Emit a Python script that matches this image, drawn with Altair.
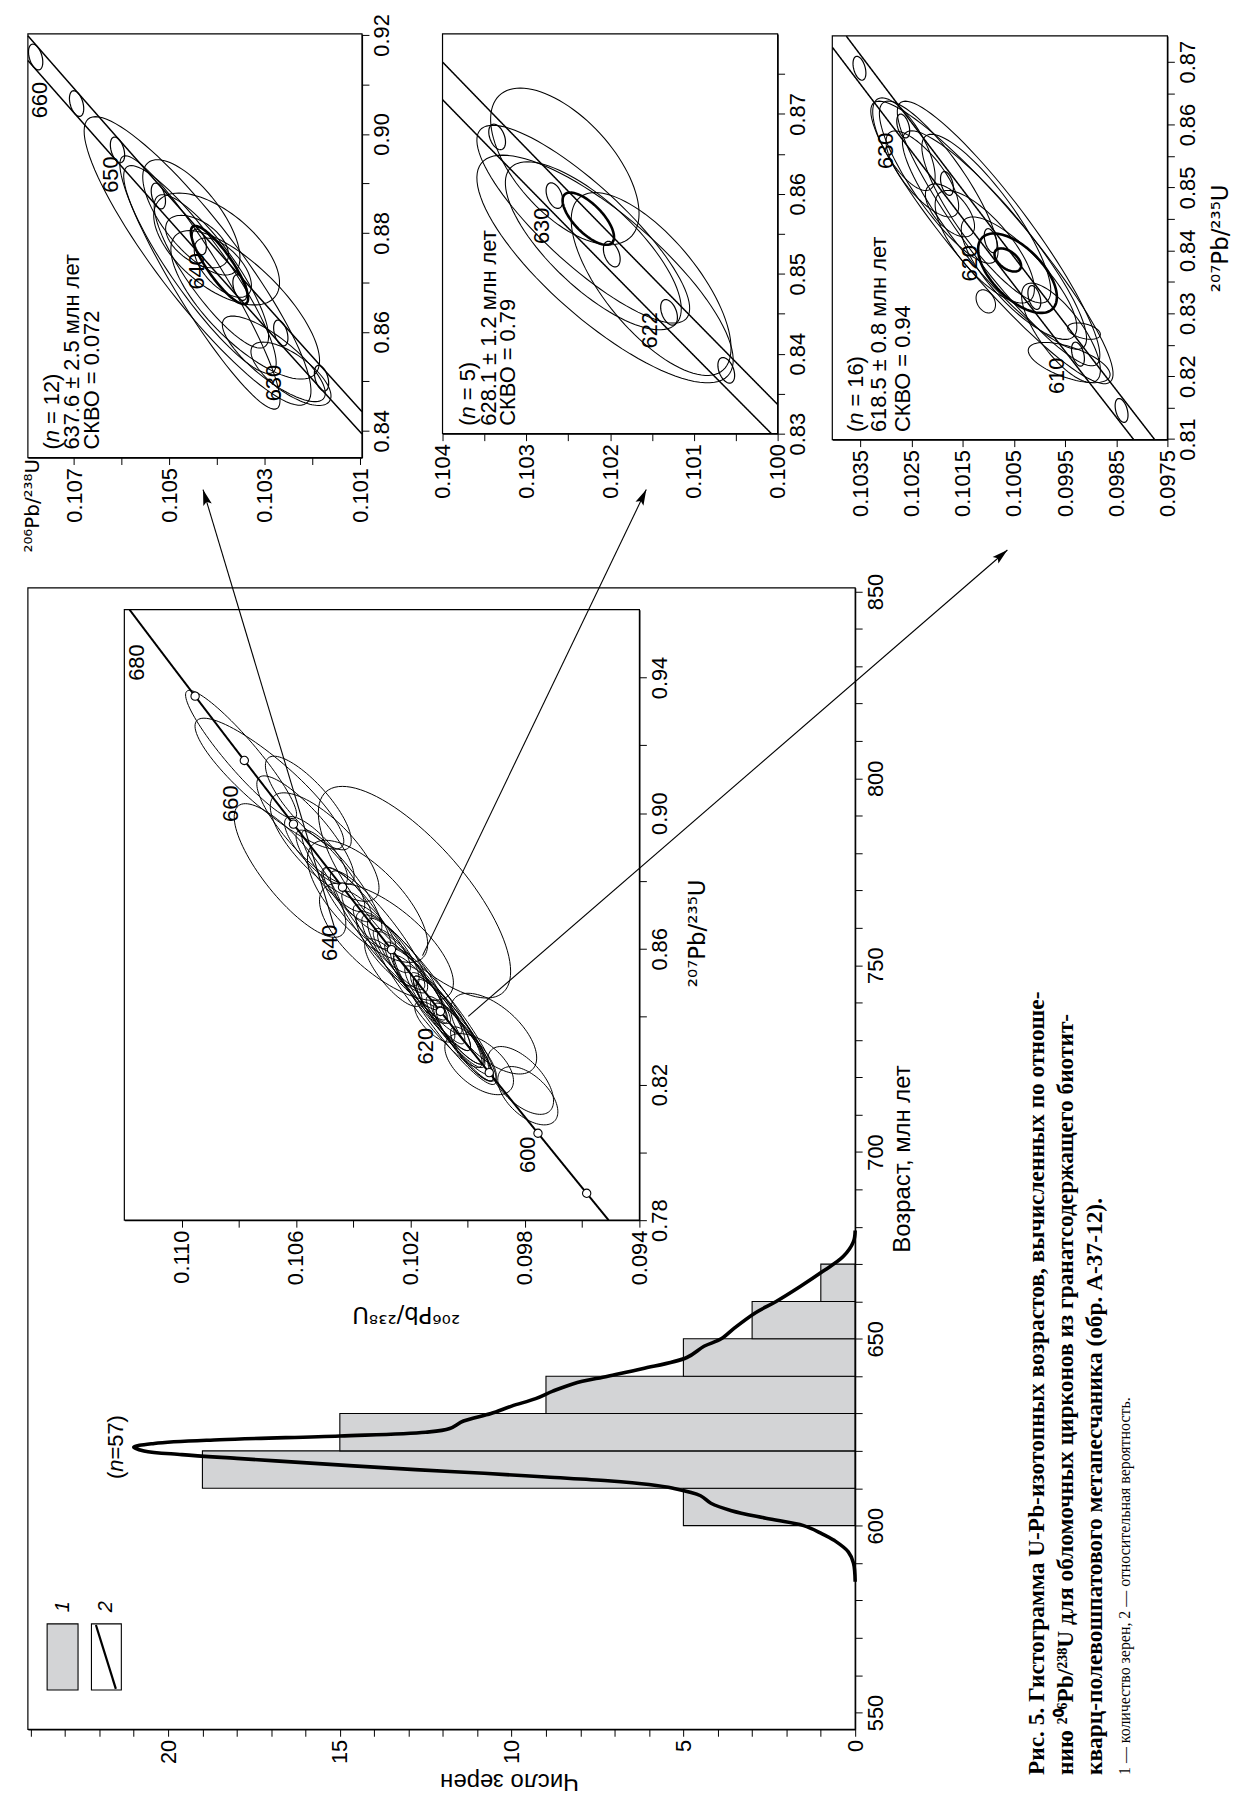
import math
import numpy as np
import pandas as pd
import altair as alt

INK = "#000000"
BAR = "#d3d4d6"
SANS = "Liberation Sans"
ISO = "DejaVu Sans"
SERIF = "Liberation Serif"
W, H = 1236, 1788
FS = 22

# ---------------- histogram data ----------------
age_bin_start = [600, 610, 620, 630, 640, 650, 660]
age_bin_end = [610, 620, 630, 640, 650, 660, 670]
grain_count = [5, 19, 15, 9, 5, 3, 1]
curve_age = [585, 590, 593, 596, 598, 600, 602, 604, 606, 608, 610, 611, 612, 613, 614, 615,
             616, 617, 618, 619, 620, 621, 622, 623, 624, 625, 626, 628, 630, 632, 634, 636,
             638, 640, 642, 645, 648, 650, 653, 657, 660, 664, 668, 672, 676, 679]
curve_prob = [0, 0.05, 0.2, 0.6, 1.0, 1.5, 2.6, 3.6, 4.2, 4.5, 5.3, 6.0, 7.2, 9.0, 10.8, 12.8,
              14.6, 16.3, 18.0, 19.6, 20.7, 21.0, 20.4, 18.5, 15.0, 12.5, 11.8, 11.4, 10.6, 10.0,
              9.3, 8.8, 8.2, 7.2, 6.2, 4.9, 4.4, 3.9, 3.5, 2.9, 2.3, 1.6, 0.95, 0.35, 0.05, 0]
count_ticks = list(range(0, 25))
age_ticks = list(range(550, 851, 10))

# ---------------- inset (all grains) ----------------
inset_cx = [0.9173, 0.9087, 0.8831, 0.8950, 0.9030, 0.8767, 0.8621, 0.8350, 0.8212, 0.8167,
            0.8800, 0.8720, 0.8650, 0.8560, 0.8500, 0.8450, 0.8420, 0.8380, 0.8350, 0.8320,
            0.8290, 0.8400, 0.8470, 0.8600, 0.8890, 0.8900, 0.8260, 0.8530, 0.8740, 0.8385,
            0.8330, 0.8360, 0.8410, 0.8440, 0.8480, 0.8520, 0.8570, 0.8630, 0.8680, 0.8760,
            0.8830, 0.8390]
inset_cy = [0.10792, 0.10693, 0.10621, 0.10567, 0.10557, 0.10186, 0.10284, 0.09909, 0.09815, 0.09790,
            0.10440, 0.10390, 0.10310, 0.10230, 0.10180, 0.10130, 0.10100, 0.10060, 0.10030, 0.10010,
            0.09980, 0.10080, 0.10150, 0.10280, 0.10530, 0.10500, 0.09960, 0.10260, 0.10350, 0.10115,
            0.10020, 0.10045, 0.10090, 0.10110, 0.10160, 0.10195, 0.10240, 0.10300, 0.10345, 0.10420,
            0.10480, 0.10070]
inset_sx = [0.0189, 0.0193, 0.0197, 0.0160, 0.0138, 0.0312, 0.0173, 0.0119, 0.0100, 0.0086,
            0.0150, 0.0120, 0.0180, 0.0140, 0.0120, 0.0150, 0.0100, 0.0130, 0.0090, 0.0110,
            0.0080, 0.0200, 0.0220, 0.0110, 0.0100, 0.0160, 0.0090, 0.0100, 0.0180, 0.0060,
            0.0120, 0.0100, 0.0110, 0.0090, 0.0100, 0.0130, 0.0090, 0.0100, 0.0090, 0.0080,
            0.0120, 0.0160]
inset_sy = [0.00194, 0.00260, 0.00195, 0.00170, 0.00150, 0.00336, 0.00234, 0.00150, 0.00115, 0.00105,
            0.00140, 0.00120, 0.00170, 0.00140, 0.00110, 0.00140, 0.00090, 0.00120, 0.00090, 0.00100,
            0.00080, 0.00180, 0.00200, 0.00110, 0.00110, 0.00190, 0.00120, 0.00100, 0.00210, 0.00070,
            0.00110, 0.00100, 0.00100, 0.00090, 0.00100, 0.00120, 0.00090, 0.00100, 0.00095, 0.00085,
            0.00120, 0.00150]
inset_rho = [0.93, 0.88, 0.80, 0.85, 0.80, 0.75, 0.70, 0.60, 0.60, 0.55,
             0.90, 0.85, 0.90, 0.88, 0.90, 0.92, 0.88, 0.90, 0.85, 0.88,
             0.80, 0.93, 0.93, 0.80, 0.80, 0.75, 0.55, 0.80, 0.70, 0.70,
             0.92, 0.90, 0.90, 0.88, 0.90, 0.92, 0.85, 0.85, 0.85, 0.80,
             0.85, 0.93]
inset_marker_age = [590, 600, 610, 620, 630, 640, 650, 660, 670]
inset_label = ["600", "620", "640", "660", "680"]
inset_label_xo = [0.7993, 0.8313, 0.8618, 0.9028, 0.9444]
inset_label_yo = [0.09789, 0.10147, 0.10481, 0.10828, 0.11155]

# arrows from the inset to the three enlarged diagrams (inset coordinates)
arrow_from_xo = [0.8656, 0.8580, 0.8401]
arrow_from_yo = [0.10463, 0.10158, 0.09998]
arrow_to_xo = [0.9954, 0.9954, 0.9776]
arrow_to_yo = [0.10925, 0.09376, 0.08114]

# ---------------- panel A (n = 12) ----------------
a_cx = [0.87433, 0.86997, 0.88313, 0.87674, 0.86545, 0.85454, 0.85153, 0.87298, 0.87824, 0.87222, 0.87260]
a_cy = [0.10441, 0.10436, 0.10454, 0.10401, 0.10341, 0.10281, 0.10245, 0.10388, 0.10442, 0.10412, 0.10436]
a_sx = [0.02916, 0.02560, 0.01166, 0.01130, 0.01500, 0.00865, 0.00640, 0.00600, 0.00530, 0.01550, 0.02100]
a_sy = [0.00238, 0.00168, 0.00102, 0.00132, 0.00156, 0.00108, 0.00084, 0.00060, 0.00066, 0.00120, 0.00160]
a_rho = [0.90, 0.93, 0.70, 0.60, 0.75, 0.80, 0.70, 0.60, 0.50, 0.85, 0.90]
a_mean = [0.8735, 0.10395, 0.0079, 0.0006, 0.85]
a_marker_age = [625, 630, 635, 640, 645, 650, 655, 660]
a_label = ["630", "640", "650", "660"]
a_label_xo = [0.84965, 0.87222, 0.89178, 0.90683]
a_label_yo = [0.10281, 0.10442, 0.10622, 0.10772]
a_stats = ["637.6 ± 2.5 млн лет", "СКВО = 0.072"]
a_n = "12"

# ---------------- panel B (n = 5) ----------------
b_cx = [0.85060, 0.86343, 0.85620, 0.84872, 0.85350]
b_cy = [0.10206, 0.10254, 0.10232, 0.10151, 0.10220]
b_sx = [0.01424, 0.00980, 0.01237, 0.01144, 0.01050]
b_sy = [0.00153, 0.000886, 0.00127, 0.000954, 0.00105]
b_rho = [0.80, 0.60, 0.85, 0.70, 0.75]
b_mean = [0.85689, 0.10226, 0.00327, 0.000307, 0.70]
b_marker_age = [618, 622, 626, 630, 634]
b_label = ["630", "622"]
b_label_xo = [0.8560, 0.84294]
b_label_yo = [0.10281, 0.10152]
b_stats = ["628.1 ± 1.2 млн лет", "СКВО = 0.79"]
b_n = "5"

# ---------------- panel C (n = 16) ----------------
c_cx = [0.84126, 0.84268, 0.84163, 0.84505, 0.84058, 0.83558, 0.82716, 0.82689, 0.82216,
        0.85689, 0.85215, 0.85084, 0.84636, 0.83189]
c_cy = [0.10093, 0.10080, 0.10088, 0.10104, 0.10107, 0.10040, 0.09913, 0.09958, 0.09942,
        0.10265, 0.10229, 0.10197, 0.10175, 0.10105]
c_sx = [0.02247, 0.02105, 0.01737, 0.01342, 0.00895, 0.00974, 0.00130, 0.00790, 0.00320,
        0.00737, 0.00684, 0.01289, 0.00421, 0.00184]
c_sy = [0.002368, 0.00198, 0.00180, 0.00126, 0.00097, 0.00113, 0.00032, 0.00077, 0.00080,
        0.00061, 0.00071, 0.00116, 0.00048, 0.00019]
c_rho = [0.93, 0.92, 0.90, 0.85, 0.75, 0.80, 0.40, 0.75, 0.60, 0.70, 0.75, 0.85, 0.60, 0.30]
c_bold_cx = [0.83847, 0.83637]
c_bold_cy = [0.10062, 0.10043]
c_bold_sx = [0.00184, 0.00632]
c_bold_sy = [0.00026, 0.00077]
c_bold_rho = [0.50, 0.60]
c_marker_age = [605, 610, 615, 620, 625, 630, 635]
c_label = ["630", "620", "610"]
c_label_xo = [0.85584, 0.83794, 0.82005]
c_label_yo = [0.10300, 0.10136, 0.09965]
c_stats = ["618.5 ± 0.8 млн лет", "СКВО = 0.94"]
c_n = "16"

caption_bold = [
    "Рис. 5. Гистограмма U-Pb-изотопных возрастов, вычисленных по отноше-",
    "нию ²⁰⁶Pb/²³⁸U для обломочных цирконов из гранатсодержащего биотит-",
    "кварц-полевошпатового метапесчаника (обр. А-37-12).",
]
caption_note = "1 — количество зерен, 2 — относительная вероятность."

# ---------------- layout (chart pixels) ----------------
P_HIST = dict(xd=[0, 24.08], xr=[852, 20], yd=[545.5, 851], yr=[1726, 578])
P_INS = dict(xd=[0.094, 0.112], xr=[635, 117], yd=[0.78, 0.96], yr=[1214, 600])
P_A = dict(xd=[0.10096, 0.10797], xr=[356, 20], yd=[0.8346, 0.9202], yr=[447, 21])
P_B = dict(xd=[0.100, 0.104], xr=[774, 437], yd=[0.83, 0.88], yr=[423, 21])
P_C = dict(xd=[0.0975, 0.10405], xr=[1166, 829], yd=[0.8099, 0.8741], yr=[429, 23])

L238, L235 = 1.55125e-4, 9.8485e-4  # decay constants, 1/Ma


def concordia(age, eps=0.0):
    age = np.asarray(age, dtype=float)
    return np.exp(L235 * (1 + eps) * age) - 1, np.exp(L238 * age) - 1


def scales(p):
    return (alt.Scale(domain=p["xd"], range=p["xr"], nice=False, zero=False),
            alt.Scale(domain=p["yd"], range=p["yr"], nice=False, zero=False))


def enc(p, xf="yo", yf="xo"):
    sx, sy = scales(p)
    return dict(x=alt.X(f"{xf}:Q", scale=sx, axis=None), y=alt.Y(f"{yf}:Q", scale=sy, axis=None))


def axis_bottom(p, values, expr, **kw):
    return alt.Axis(orient="bottom", offset=p["yr"][0] - H, values=values, labelExpr=expr,
                    labelAngle=270, labelAlign="right", labelBaseline="middle",
                    labelFlush=False, labelOverlap=False, grid=False, **kw)


def axis_right(p, values, expr, **kw):
    return alt.Axis(orient="right", offset=p["xr"][0] - W, values=values, labelExpr=expr,
                    labelAngle=270, labelAlign="center", labelBaseline="top",
                    labelFlush=False, labelOverlap=False, grid=False, **kw)


def iso_title(text, angle, x, y, size):
    return dict(title=text, titleAngle=angle, titleAlign="center", titleBaseline="middle",
                titleX=x, titleY=y, titleFont=ISO, titleFontSize=size)


def axis_layers(p, xax, yax):
    """Two invisible helper layers carrying the panel's axes (one per axis)."""
    sx, sy = scales(p)
    df = pd.DataFrame({"a": [p["xd"][0]], "b": [p["yd"][0]]})
    lx = alt.Chart(df).mark_point(opacity=0, size=1).encode(
        x=alt.X("a:Q", scale=sx, axis=xax), y=alt.Y("b:Q", scale=sy, axis=None))
    ly = alt.Chart(df).mark_point(opacity=0, size=1).encode(
        x=alt.X("a:Q", scale=sx, axis=None), y=alt.Y("b:Q", scale=sy, axis=yax))
    return [lx, ly]


def frame(p):
    sx, sy = scales(p)
    df = pd.DataFrame({"a0": [p["xd"][0]], "a1": [p["xd"][1]], "b0": [p["yd"][0]], "b1": [p["yd"][1]]})
    return alt.Chart(df).mark_rect(fill="transparent", stroke=INK, strokeWidth=1.2).encode(
        x=alt.X("a0:Q", scale=sx, axis=None), x2="a1:Q",
        y=alt.Y("b0:Q", scale=sy, axis=None), y2="b1:Q")


def ellipses(cx, cy, sx, sy, rho, tag, n=100):
    t = np.linspace(0, 2 * np.pi, n)
    parts = []
    for i in range(len(cx)):
        r = rho[i]
        xo = cx[i] + sx[i] * np.cos(t)
        yo = cy[i] + sy[i] * (r * np.cos(t) + math.sqrt(1 - r * r) * np.sin(t))
        parts.append(pd.DataFrame({"id": f"{tag}{i}", "k": np.arange(n), "xo": xo, "yo": yo}))
    return pd.concat(parts, ignore_index=True)


def ell_layer(p, df, width):
    return alt.Chart(df).mark_line(color=INK, strokeWidth=width).encode(
        detail="id:N", order="k:Q", **enc(p))


def conc_lines(p, eps_list):
    ages = np.arange(560, 720, 0.02)
    parts = []
    for j, e in enumerate(eps_list):
        r75, r68 = concordia(ages, e)
        m = (r68 >= p["xd"][0]) & (r68 <= p["xd"][1]) & (r75 >= p["yd"][0]) & (r75 <= p["yd"][1])
        parts.append(pd.DataFrame({"id": j, "age": ages[m], "xo": r75[m], "yo": r68[m]}))
    return pd.concat(parts, ignore_index=True)


def text_layer(p, texts, xo, yo, **mk):
    df = pd.DataFrame({"t": texts, "xo": xo, "yo": yo})
    base = dict(font=SANS, fontSize=FS, color=INK, angle=270, baseline="middle")
    base.update(mk)
    return alt.Chart(df).mark_text(**base).encode(text="t:N", **enc(p))


def n_line(p, xo, yo, rest, fs=FS):
    w_par = 0.333 * fs
    w_n = 0.556 * fs
    w_sp = 0.278 * fs
    return [
        text_layer(p, ["("], [xo], [yo], align="left", fontSize=fs),
        text_layer(p, ["n"], [xo], [yo], align="left", fontSize=fs, fontStyle="italic", dx=w_par),
        text_layer(p, ["= " + rest + ")"], [xo], [yo], align="left", fontSize=fs, dx=w_par + w_n + w_sp),
    ]


def markers(ages, sx, sy, rho, tag):
    r75, r68 = concordia(ages)
    n = len(ages)
    return ellipses(list(r75), list(r68), [sx] * n, [sy] * n, [rho] * n, tag, n=50)


LAYERS = []

# ---------------- histogram ----------------
sxh, syh = scales(P_HIST)
bars_df = pd.DataFrame({"zero": 0, "cnt": grain_count, "a0": age_bin_start, "a1": age_bin_end})
LAYERS.append(alt.Chart(bars_df).mark_rect(fill=BAR, stroke=INK, strokeWidth=1.1).encode(
    x=alt.X("zero:Q", scale=sxh, axis=None), x2="cnt:Q",
    y=alt.Y("a0:Q", scale=syh, axis=None), y2="a1:Q"))
LAYERS.append(alt.Chart(pd.DataFrame({"age": curve_age, "cnt": curve_prob})).mark_line(
    color=INK, strokeWidth=3.6, interpolate="catmull-rom").encode(order="age:Q", **enc(P_HIST, "cnt", "age")))

legend_box = pd.DataFrame({"c0": [22.62, 21.36], "c1": [23.52, 22.23], "a0": [556.0, 556.0],
                           "a1": [573.7, 573.7], "fill": [BAR, "#ffffff"]})
LAYERS.append(alt.Chart(legend_box).mark_rect(stroke=INK, strokeWidth=1.1).encode(
    x=alt.X("c0:Q", scale=sxh, axis=None), x2="c1:Q",
    y=alt.Y("a0:Q", scale=syh, axis=None), y2="a1:Q",
    fill=alt.Fill("fill:N", scale=None)))
LAYERS.append(alt.Chart(pd.DataFrame({"cnt": [21.52, 22.10], "age": [556.3, 573.4]})).mark_line(
    color=INK, strokeWidth=2.2).encode(**enc(P_HIST, "cnt", "age")))
LAYERS.append(alt.Chart(pd.DataFrame({"t": ["1", "2"], "cnt": [23.05, 21.8], "age": [578.3, 578.3]})).mark_text(
    font=SANS, fontSize=20, fontStyle="italic", color=INK, angle=270, align="center",
    baseline="middle").encode(text="t:N", **enc(P_HIST, "cnt", "age")))


def hist_text(texts, cnt, age, **mk):
    df = pd.DataFrame({"t": texts, "cnt": cnt, "age": age})
    base = dict(font=SANS, fontSize=FS, color=INK, angle=270, baseline="middle", align="left")
    base.update(mk)
    return alt.Chart(df).mark_text(**base).encode(text="t:N", **enc(P_HIST, "cnt", "age"))


LAYERS += [hist_text(["("], [21.5], [612.5]),
           hist_text(["n"], [21.5], [612.5], fontStyle="italic", dx=0.333 * FS),
           hist_text(["=57)"], [21.5], [612.5], dx=0.333 * FS + 0.556 * FS)]
LAYERS.append(frame(P_HIST))
LAYERS += axis_layers(
    P_HIST,
    axis_bottom(P_HIST, count_ticks, "datum.value % 5 == 0 ? datum.label : ''",
                title="Число зерен", titleAngle=180, titleAlign="center", titleBaseline="middle",
                titleX=504, titleY=51, titleFontSize=24),
    axis_right(P_HIST, age_ticks, "datum.value % 50 == 0 ? datum.label : ''",
               title="Возраст, млн лет", titleAngle=270, titleAlign="center", titleBaseline="middle",
               titleX=48, titleY=1152, titleFontSize=24))

# ---------------- inset ----------------
LAYERS.append(ell_layer(P_INS, ellipses(inset_cx, inset_cy, inset_sx, inset_sy, inset_rho, "i"), 1.0))
LAYERS.append(alt.Chart(conc_lines(P_INS, [0.0])).mark_line(color=INK, strokeWidth=2.0).encode(
    detail="id:N", order="age:Q", **enc(P_INS)))
m75, m68 = concordia(inset_marker_age)
LAYERS.append(alt.Chart(pd.DataFrame({"xo": m75, "yo": m68})).mark_point(
    shape="circle", filled=True, fill="white", stroke=INK, strokeWidth=1.1, size=70, opacity=1).encode(**enc(P_INS)))
LAYERS.append(text_layer(P_INS, inset_label, inset_label_xo, inset_label_yo, align="center"))


def ins_px(yo, xo):
    p = P_INS
    px = p["xr"][0] + (yo - p["xd"][0]) * (p["xr"][1] - p["xr"][0]) / (p["xd"][1] - p["xd"][0])
    py = p["yr"][0] + (xo - p["yd"][0]) * (p["yr"][1] - p["yr"][0]) / (p["yd"][1] - p["yd"][0])
    return px, py


arr_rows, head_rows = [], []
for i in range(3):
    arr_rows.append({"id": i, "k": 0, "xo": arrow_from_xo[i], "yo": arrow_from_yo[i]})
    arr_rows.append({"id": i, "k": 1, "xo": arrow_to_xo[i], "yo": arrow_to_yo[i]})
    x0, y0 = ins_px(arrow_from_yo[i], arrow_from_xo[i])
    x1, y1 = ins_px(arrow_to_yo[i], arrow_to_xo[i])
    ang = math.degrees(math.atan2(x1 - x0, -(y1 - y0))) % 360
    head_rows.append({"xo": arrow_to_xo[i], "yo": arrow_to_yo[i], "ang": ang})
LAYERS.append(alt.Chart(pd.DataFrame(arr_rows)).mark_line(color=INK, strokeWidth=1.1).encode(
    detail="id:N", order="k:Q", **enc(P_INS)))
LAYERS.append(alt.Chart(pd.DataFrame(head_rows)).mark_point(
    shape="M0,0L0.28,1L0,0.8L-0.28,1Z", filled=True, color=INK, size=1000, opacity=1).encode(
    angle=alt.Angle("ang:Q", scale=None), **enc(P_INS)))
LAYERS.append(frame(P_INS))
LAYERS += axis_layers(
    P_INS,
    axis_bottom(P_INS, [round(0.094 + 0.002 * i, 3) for i in range(9)],
                "round(datum.value*1000) % 4 == 2 ? format(datum.value, '.3f') : ''",
                **iso_title("²⁰⁶Pb/²³⁸U", 180, 400, 94, 23)),
    axis_right(P_INS, [round(0.78 + 0.02 * i, 2) for i in range(9)],
               "round(datum.value*100) % 4 == 2 ? format(datum.value, '.2f') : ''",
               **iso_title("²⁰⁷Pb/²³⁵U", 270, 58, 925, 23)))


# ---------------- enlarged panels ----------------
def panel(p, cx, cy, sx, sy, rho, bold, mk_ages, mk_size, labels, lab_xo, lab_yo,
          nval, stats, stat_yo, stat_xo, xax, yax, tag):
    layers = [
        ell_layer(p, ellipses(cx, cy, sx, sy, rho, tag), 1.05),
        ell_layer(p, ellipses(*bold, tag + "b"), 2.6),
        alt.Chart(conc_lines(p, [-0.002, 0.002])).mark_line(color=INK, strokeWidth=1.5).encode(
            detail="id:N", order="age:Q", **enc(p)),
        ell_layer(p, markers(mk_ages, *mk_size, tag + "m"), 1.2),
        text_layer(p, labels, lab_xo, lab_yo, align="center"),
    ]
    layers += n_line(p, stat_xo, stat_yo[0], nval)
    layers.append(text_layer(p, stats, [stat_xo] * len(stats), stat_yo[1:], align="left"))
    layers.append(frame(p))
    layers += axis_layers(p, xax, yax)
    return layers


LAYERS += panel(P_A, a_cx, a_cy, a_sx, a_sy, a_rho,
                ([a_mean[0]], [a_mean[1]], [a_mean[2]], [a_mean[3]], [a_mean[4]]),
                a_marker_age, (0.0026, 0.00015, 0.4), a_label, a_label_xo, a_label_yo,
                a_n, a_stats, [0.10747, 0.10705, 0.10663], 0.8362,
                axis_bottom(P_A, [round(0.101 + 0.001 * i, 3) for i in range(8)],
                            "round(datum.value*1000) % 2 == 1 ? format(datum.value, '.3f') : ''",
                            **iso_title("²⁰⁶Pb/²³⁸U", 270, 25, 48, 20)),
                axis_right(P_A, [round(0.84 + 0.01 * i, 2) for i in range(9)],
                           "round(datum.value*100) % 2 == 0 ? format(datum.value, '.2f') : ''", title=None),
                "a")

LAYERS += panel(P_B, b_cx, b_cy, b_sx, b_sy, b_rho,
                ([b_mean[0]], [b_mean[1]], [b_mean[2]], [b_mean[3]], [b_mean[4]]),
                b_marker_age, (0.0016, 0.0001, 0.4), b_label, b_label_xo, b_label_yo,
                b_n, b_stats, [0.10369, 0.10345, 0.10322], 0.8310,
                axis_bottom(P_B, [round(0.100 + 0.0005 * i, 4) for i in range(9)],
                            "round(datum.value*10000) % 10 == 0 ? format(datum.value, '.3f') : ''", title=None),
                axis_right(P_B, [round(0.830 + 0.005 * i, 3) for i in range(10)],
                           "round(datum.value*1000) % 10 == 0 ? format(datum.value, '.2f') : ''", title=None),
                "b")

LAYERS += panel(P_C, c_cx, c_cy, c_sx, c_sy, c_rho,
                (c_bold_cx, c_bold_cy, c_bold_sx, c_bold_sy, c_bold_rho),
                c_marker_age, (0.0019, 0.000126, 0.4), c_label, c_label_xo, c_label_yo,
                c_n, c_stats, [0.10359, 0.10314, 0.10266], 0.8111,
                axis_bottom(P_C, [round(0.0975 + 0.001 * i, 4) for i in range(7)],
                            "format(datum.value, '.4f')", title=None),
                axis_right(P_C, [round(0.810 + 0.005 * i, 3) for i in range(13)],
                           "round(datum.value*1000) % 10 == 0 ? format(datum.value, '.2f') : ''",
                           **iso_title("²⁰⁷Pb/²³⁵U", 270, 53, 226, 23)),
                "c")

# ---------------- caption ----------------
cap_x = alt.Scale(domain=[0, 3], range=[1035, 1123])
cap_y = alt.Scale(domain=[0, 1], range=[1772, 0])
LAYERS.append(alt.Chart(pd.DataFrame({"line": [0, 1, 2], "pos": 0, "t": caption_bold})).mark_text(
    font=SERIF, fontSize=23.5, fontWeight="bold", color=INK, angle=270, align="left", baseline="middle").encode(
    x=alt.X("line:Q", scale=cap_x, axis=None), y=alt.Y("pos:Q", scale=cap_y, axis=None), text="t:N"))
LAYERS.append(alt.Chart(pd.DataFrame({"line": [3], "pos": 0, "t": [caption_note]})).mark_text(
    font=SERIF, fontSize=16, color=INK, angle=270, align="left", baseline="middle").encode(
    x=alt.X("line:Q", scale=cap_x, axis=None), y=alt.Y("pos:Q", scale=cap_y, axis=None), text="t:N"))

chart = alt.layer(*LAYERS).resolve_scale(
    x="independent", y="independent"
).resolve_axis(
    x="independent", y="independent"
).properties(
    width=W, height=H, autosize=alt.AutoSizeParams(type="none"), padding=0
).configure_view(stroke="transparent").configure_axis(
    labelFont=SANS, labelFontSize=FS, labelColor=INK, titleFont=SANS, titleFontSize=FS,
    titleFontWeight="normal", titleColor=INK, tickColor=INK, domainColor=INK, tickSize=7,
    tickWidth=1, domainWidth=1.2, labelPadding=3
)

chart.save("out.html", embed_options={"renderer": "svg", "actions": False})
